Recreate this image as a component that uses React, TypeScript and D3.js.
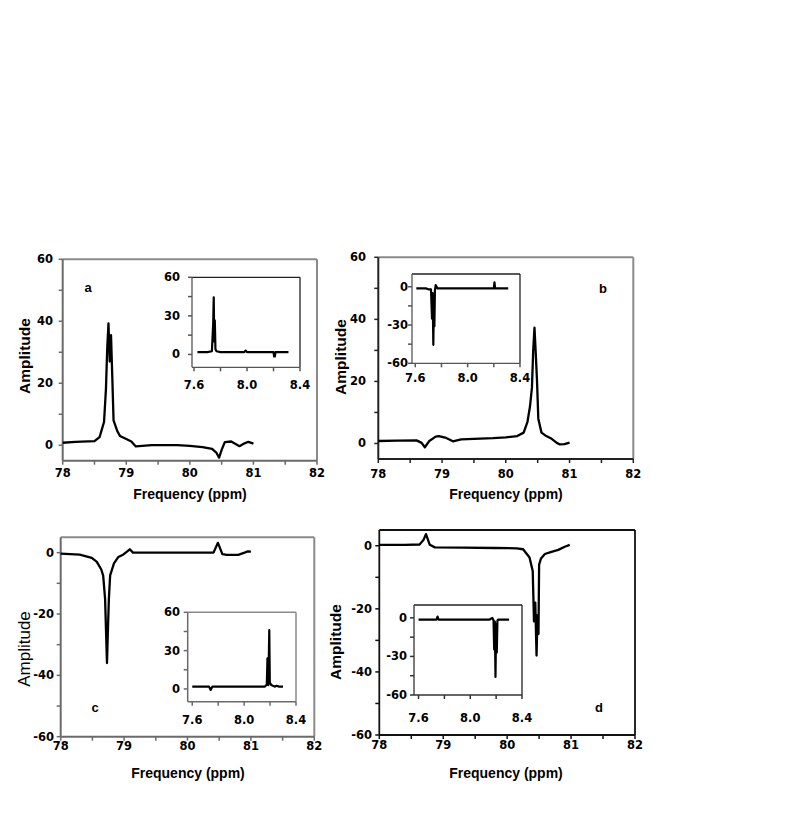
import React from "react";
import * as d3 from "d3";

// ---------- tick values ----------
const xTicksMain = [78, 79, 80, 81, 82];
const xMinorMain = [78.5, 79.5, 80.5, 81.5];
const yTicksPos = [0, 20, 40, 60];
const yMinorPos = [10, 30, 50];
const yTicksNeg = [-60, -40, -20, 0];
const yMinorNeg = [-50, -30, -10];
const insetXTicks = [7.6, 8.0, 8.4];
const insetXMinor = [7.8, 8.2];
const insetYPos = [0, 30, 60];
const insetYPosMinor = [15, 45];
const insetYNeg = [-60, -30, 0];
const insetYNegMinor = [-45, -15];

// ---------- main spectra ----------
const freqA = [78.0, 78.2, 78.5, 78.58, 78.65, 78.68, 78.70, 78.72, 78.74, 78.76, 78.78, 78.80, 78.86, 78.9, 79.0, 79.08, 79.15, 79.4, 79.8, 80.0, 80.2, 80.35, 80.42, 80.46, 80.5, 80.55, 80.65, 80.72, 80.78, 80.86, 80.92, 81.0];
const ampA = [0.8, 1.1, 1.3, 2.6, 7.5, 18, 31, 39.3, 27, 35.5, 22, 8, 4.5, 3, 2, 1.2, -0.4, 0, 0, -0.2, -0.6, -1.2, -2.5, -4, -1.5, 1.0, 1.2, 0.4, -0.3, 0.6, 1.1, 0.5];

const freqB = [78.0, 78.3, 78.6, 78.68, 78.73, 78.8, 78.9, 78.95, 79.05, 79.17, 79.3, 79.5, 79.8, 80.0, 80.18, 80.28, 80.34, 80.38, 80.41, 80.43, 80.45, 80.47, 80.49, 80.51, 80.56, 80.62, 80.72, 80.8, 80.85, 80.92, 81.0];
const ampB = [0.8, 0.9, 1.0, 0.2, -1.2, 0.8, 2.2, 2.4, 1.9, 0.7, 1.3, 1.5, 1.7, 2.0, 2.4, 3.5, 7, 12, 18, 30, 37.3, 29, 20, 8, 3.5, 2.6, 1.5, 0.2, -0.3, -0.2, 0.3];

const freqC = [78.0, 78.3, 78.49, 78.57, 78.64, 78.67, 78.70, 78.72, 78.73, 78.745, 78.76, 78.78, 78.84, 78.91, 78.99, 79.09, 79.14, 79.5, 80.0, 80.41, 80.48, 80.55, 80.62, 80.8, 80.9, 80.95, 81.0];
const ampC = [-0.3, -0.65, -1.7, -3, -5.5, -7.5, -15, -29, -36, -25, -15, -7.4, -3.5, -1.4, -0.6, 1.1, 0, 0, 0, 0, 3.2, -0.5, -0.7, -0.7, 0.0, 0.4, 0.3];

const freqD = [78.0, 78.4, 78.63, 78.69, 78.73, 78.79, 78.87, 79.3, 79.8, 80.15, 80.25, 80.35, 80.40, 80.42, 80.44, 80.46, 80.475, 80.49, 80.50, 80.53, 80.59, 80.68, 80.8, 80.9, 80.98];
const ampD = [0.3, 0.3, 0.4, 1.8, 3.7, 0.3, -0.5, -0.6, -0.7, -0.8, -1.1, -3.7, -8, -24, -18, -34.8, -22, -28, -6, -4, -2.6, -2, -1.3, -0.3, 0.3];

// ---------- inset spectra ----------
const insetFreqA = [7.626, 7.70, 7.735, 7.745, 7.749, 7.753, 7.757, 7.762, 7.77, 7.8, 7.98, 7.99, 8.0, 8.2, 8.205, 8.21, 8.215, 8.313];
const insetAmpA = [1.8, 1.8, 2.5, 24, 44.4, 10, 26.6, 4, 2.5, 1.8, 1.8, 3, 1.8, 1.8, -1.6, -1.6, 1.8, 1.8];

const insetFreqB = [7.608, 7.68, 7.70, 7.72, 7.728, 7.733, 7.738, 7.742, 7.746, 7.75, 7.756, 7.77, 8.2, 8.205, 8.21, 8.31];
const insetAmpB = [-1.3, -1.3, -2, -2, -25, -5, -45.5, -10, -31, -3, 1.3, -1.3, -1.3, 3.5, -1.3, -1.3];

const insetFreqC = [7.6, 7.73, 7.742, 7.755, 8.16, 8.175, 8.18, 8.187, 8.194, 8.198, 8.21, 8.235, 8.25, 8.27, 8.30];
const insetAmpC = [1.8, 1.8, -0.8, 1.8, 1.8, 3.5, 24, 3, 46, 5, 3, 1.8, 2.5, 1.8, 1.8];

const insetFreqD = [7.6, 7.74, 7.747, 7.755, 8.15, 8.17, 8.18, 8.185, 8.19, 8.195, 8.2, 8.205, 8.21, 8.215, 8.30];
const insetAmpD = [-1.3, -1.3, 1, -1.3, -1.3, 0, -2, -24.6, -3, -46, -5, -27, -2.3, -1.3, -1.3];

const FONT = "'Liberation Sans', Arial, sans-serif";
const TICKFONT = "'DejaVu Sans', Verdana, sans-serif";

type AxisBoxProps = {
  xr: [number, number];
  yr: [number, number];
  xd: [number, number];
  yd: [number, number];
  xt: number[];
  xm: number[];
  yt: number[];
  ym: number[];
  xfmt: (v: number) => string;
  xLabelDy: number;
  yLabelEnd: number;
  freq: number[];
  amp: number[];
  frameColor: string;
  axisColor: string;
  frameW: number;
  lineW: number;
  fill?: string;
};

function AxisBox(p: AxisBoxProps) {
  const x = d3.scaleLinear().domain(p.xd).range(p.xr);
  const y = d3.scaleLinear().domain(p.yd).range(p.yr);
  const line = d3
    .line<number>()
    .x((_, i) => x(p.freq[i]))
    .y((d) => y(d))
    .curve(d3.curveLinear);
  const [x0, x1] = p.xr;
  const [yb, yt] = p.yr;
  const tk = 4;
  return (
    <g>
      {p.fill && <rect x={x0} y={yt} width={x1 - x0} height={yb - yt} fill={p.fill} />}
      <line x1={x0} y1={yt} x2={x1} y2={yt} stroke={p.frameColor} strokeWidth={p.frameW} />
      <line x1={x1} y1={yt} x2={x1} y2={yb} stroke={p.frameColor} strokeWidth={p.frameW} />
      <line x1={x0} y1={yt} x2={x0} y2={yb} stroke={p.axisColor} strokeWidth={p.frameW} />
      <line x1={x0} y1={yb} x2={x1} y2={yb} stroke={p.axisColor} strokeWidth={p.frameW} />
      {[...p.xt, ...p.xm].map((v, i) => (
        <line key={"xt" + i} x1={x(v)} x2={x(v)} y1={yb} y2={yb + tk} stroke={p.axisColor} strokeWidth={1.5} />
      ))}
      {[...p.yt, ...p.ym].map((v, i) => (
        <line key={"yt" + i} x1={x0 - tk} x2={x0} y1={y(v)} y2={y(v)} stroke={p.axisColor} strokeWidth={1.5} />
      ))}
      {p.xt.map((v, i) => (
        <text key={"xl" + i} x={x(v)} y={yb + p.xLabelDy} textAnchor="middle" dominantBaseline="central"
          fontFamily={TICKFONT} fontWeight="bold" fontSize={11.5} fill="#000">
          {p.xfmt(v)}
        </text>
      ))}
      {p.yt.map((v, i) => (
        <text key={"yl" + i} x={p.yLabelEnd} y={y(v)} textAnchor="end" dominantBaseline="central"
          fontFamily={TICKFONT} fontWeight="bold" fontSize={11.5} fill="#000">
          {String(v)}
        </text>
      ))}
      <path d={line(p.amp) || ""} fill="none" stroke="#000" strokeWidth={p.lineW} strokeLinejoin="round" />
    </g>
  );
}

const fmtInt = (v: number) => String(v);
const fmt1 = (v: number) => v.toFixed(1);

export default function App() {
  return (
    <svg width={800} height={827} style={{ position: "absolute", left: 0, top: 0, background: "#fff" }}>
      <rect x={0} y={0} width={800} height={827} fill="#fff" />

      {/* ---- Panel a ---- */}
      <AxisBox xr={[62.7, 317]} yr={[460.7, 259.3]} xd={[78, 82]} yd={[-5, 60]}
        xt={xTicksMain} xm={xMinorMain} yt={yTicksPos} ym={yMinorPos} xfmt={fmtInt}
        xLabelDy={12} yLabelEnd={53} freq={freqA} amp={ampA}
        frameColor="#8a8a8a" axisColor="#6a6a6a" frameW={2} lineW={2.3} />
      <AxisBox xr={[192, 300]} yr={[367.3, 277.3]} xd={[7.585, 8.4]} yd={[-10, 60]}
        xt={insetXTicks} xm={insetXMinor} yt={insetYPos} ym={insetYPosMinor} xfmt={fmt1}
        xLabelDy={18} yLabelEnd={180} freq={insetFreqA} amp={insetAmpA}
        frameColor="#222" axisColor="#555" frameW={1.3} lineW={2.2} fill="#fff" />
      <text x={88} y={287} textAnchor="middle" dominantBaseline="central" fontFamily={FONT} fontWeight="bold" fontSize={13}>a</text>
      <text x={190} y={494} textAnchor="middle" dominantBaseline="central" fontFamily={FONT} fontWeight="bold" fontSize={14}>Frequency (ppm)</text>
      <text transform="translate(24,356) rotate(-90)" textAnchor="middle" dominantBaseline="central" fontFamily={FONT} fontWeight="bold" fontSize={15.5}>Amplitude</text>

      {/* ---- Panel b ---- */}
      <AxisBox xr={[378.3, 633.3]} yr={[459, 257.3]} xd={[78, 82]} yd={[-5, 60]}
        xt={xTicksMain} xm={xMinorMain} yt={yTicksPos} ym={yMinorPos} xfmt={fmtInt}
        xLabelDy={15} yLabelEnd={366} freq={freqB} amp={ampB}
        frameColor="#8a8a8a" axisColor="#222" frameW={2} lineW={2.3} />
      <AxisBox xr={[412, 520]} yr={[363.3, 274]} xd={[7.575, 8.4]} yd={[-60, 10]}
        xt={insetXTicks} xm={insetXMinor} yt={insetYNeg} ym={insetYNegMinor} xfmt={fmt1}
        xLabelDy={15} yLabelEnd={408} freq={insetFreqB} amp={insetAmpB}
        frameColor="#222" axisColor="#555" frameW={1.3} lineW={2.2} fill="#fff" />
      <text x={603} y={288} textAnchor="middle" dominantBaseline="central" fontFamily={FONT} fontWeight="bold" fontSize={13}>b</text>
      <text x={506} y={494} textAnchor="middle" dominantBaseline="central" fontFamily={FONT} fontWeight="bold" fontSize={14}>Frequency (ppm)</text>
      <text transform="translate(340,357) rotate(-90)" textAnchor="middle" dominantBaseline="central" fontFamily={FONT} fontWeight="bold" fontSize={15.5}>Amplitude</text>

      {/* ---- Panel c ---- */}
      <AxisBox xr={[60.7, 314.3]} yr={[736.7, 537.3]} xd={[78, 82]} yd={[-60, 5]}
        xt={xTicksMain} xm={xMinorMain} yt={yTicksNeg} ym={yMinorNeg} xfmt={fmtInt}
        xLabelDy={9} yLabelEnd={54} freq={freqC} amp={ampC}
        frameColor="#8a8a8a" axisColor="#6a6a6a" frameW={2} lineW={2.3} />
      <AxisBox xr={[187.7, 296]} yr={[701.7, 612.3]} xd={[7.565, 8.4]} yd={[-10, 60]}
        xt={insetXTicks} xm={insetXMinor} yt={insetYPos} ym={insetYPosMinor} xfmt={fmt1}
        xLabelDy={18} yLabelEnd={180} freq={insetFreqC} amp={insetAmpC}
        frameColor="#8a8a8a" axisColor="#6a6a6a" frameW={1.5} lineW={2.2} fill="#fff" />
      <text x={95} y={707} textAnchor="middle" dominantBaseline="central" fontFamily={FONT} fontWeight="bold" fontSize={13}>c</text>
      <text x={188} y={773} textAnchor="middle" dominantBaseline="central" fontFamily={FONT} fontWeight="bold" fontSize={14}>Frequency (ppm)</text>
      <text transform="translate(24,649) rotate(-90)" textAnchor="middle" dominantBaseline="central" fontFamily={FONT} fontSize={17}>Amplitude</text>

      {/* ---- Panel d ---- */}
      <AxisBox xr={[379.3, 635]} yr={[735, 530]} xd={[78, 82]} yd={[-60, 5]}
        xt={xTicksMain} xm={xMinorMain} yt={yTicksNeg} ym={yMinorNeg} xfmt={fmtInt}
        xLabelDy={10} yLabelEnd={372} freq={freqD} amp={ampD}
        frameColor="#111" axisColor="#111" frameW={1.8} lineW={2.3} />
      <AxisBox xr={[414, 522]} yr={[695, 605]} xd={[7.565, 8.4]} yd={[-60, 10]}
        xt={insetXTicks} xm={insetXMinor} yt={insetYNeg} ym={insetYNegMinor} xfmt={fmt1}
        xLabelDy={23} yLabelEnd={407} freq={insetFreqD} amp={insetAmpD}
        frameColor="#222" axisColor="#333" frameW={1.3} lineW={2.2} fill="#fff" />
      <text x={599} y={707} textAnchor="middle" dominantBaseline="central" fontFamily={FONT} fontWeight="bold" fontSize={13}>d</text>
      <text x={506} y={773} textAnchor="middle" dominantBaseline="central" fontFamily={FONT} fontWeight="bold" fontSize={14}>Frequency (ppm)</text>
      <text transform="translate(335,642) rotate(-90)" textAnchor="middle" dominantBaseline="central" fontFamily={FONT} fontWeight="bold" fontSize={15.5}>Amplitude</text>
    </svg>
  );
}
